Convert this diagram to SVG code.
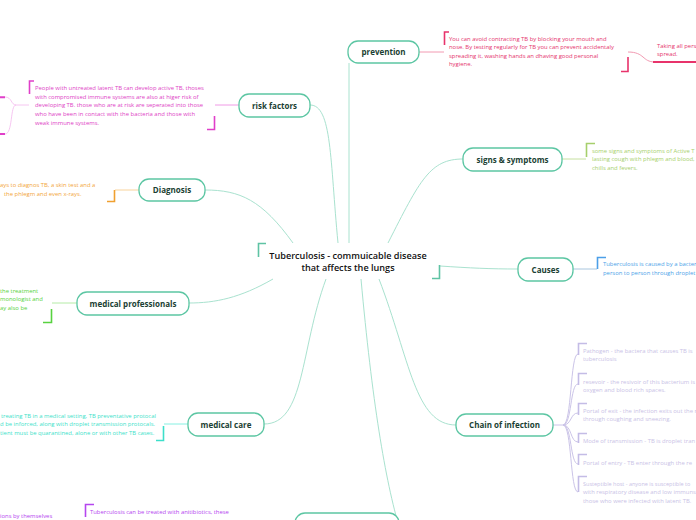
<svg xmlns="http://www.w3.org/2000/svg" width="696" height="520" viewBox="0 0 696 520">
<style>
.node rect{fill:#fff;stroke:#5cc6a3;stroke-width:1.3}
.node text{font-family:"Open Sans","Noto Sans",sans-serif;font-weight:700;font-size:8px;fill:#1b3f33;text-anchor:middle}
.conn{fill:none;stroke:#a9e2cf;stroke-width:1}
.leaf{font-family:"Open Sans","Noto Sans",sans-serif;font-size:5.9px}
.br{fill:none;stroke-width:1.6}
.title{font-family:"Open Sans","Noto Sans",sans-serif;font-weight:600;font-size:9.1px;fill:#111;text-anchor:middle}
</style>
<rect width="696" height="520" fill="#fff"/>
<g id="connectors">
<path class="conn" d="M349,243 L349,63"/>
<path class="conn" d="M338,243 C330,160 332,105 310,105"/>
<path class="conn" d="M293,243 C262,200 240,190 205,190"/>
<path class="conn" d="M273,279 C240,298 215,303 189,303"/>
<path class="conn" d="M326,279 C300,350 305,424 264,424"/>
<path class="conn" d="M361,279 C372,400 385,480 400,530"/>
<path class="conn" d="M379,279 C410,360 415,425 456,425"/>
<path class="conn" d="M440,266 C470,268 490,269 518,269"/>
<path class="conn" d="M388,243 C420,180 430,159 463,159"/>
<path fill="none" stroke="#f29ab2" stroke-width="1" d="M419,52 L444,52"/>
<path fill="none" stroke="#f29ab2" stroke-width="1" d="M628,52 C645,52 642,62 655,62"/>
<path fill="none" stroke="#f09ae6" stroke-width="1" d="M239,105 L215,105"/>
<path fill="none" stroke="#f4b8ee" stroke-width="0.8" d="M29,105 L16,105 C11,105 12,97 5,97 M16,105 C10,105 13,134 5,134"/>
<path fill="none" stroke="#f8d39c" stroke-width="1" d="M139,190 L115,190"/>
<path fill="none" stroke="#c6e0a0" stroke-width="1" d="M562,159 L586,159"/>
<path fill="none" stroke="#a9c6de" stroke-width="1" d="M573,269 L597,269"/>
<path fill="none" stroke="#b4eba6" stroke-width="1" d="M77,303 L52,303"/>
<path fill="none" stroke="#86f0e2" stroke-width="1" d="M188,424 L164,424"/>
<g fill="none" stroke="#cbc4e8" stroke-width="1">
<path d="M553,425 L563,425 C572,425 570,354 578,354"/>
<path d="M563,425 C572,425 570,384 578,384"/>
<path d="M563,425 C572,425 570,413 578,413"/>
<path d="M563,425 C572,425 570,442 578,442"/>
<path d="M563,425 C572,425 570,464 578,464"/>
<path d="M563,425 C572,425 570,492 578,492"/>
</g>
</g>

<g id="center">
<path class="br" stroke="#5fc3a4" d="M266,243.5 L258.5,243.5 L258.5,257"/>
<path class="br" stroke="#5fc3a4" d="M432,278.5 L439.5,278.5 L439.5,265"/>
<text class="title" x="348" y="259">Tuberculosis - commuicable disease</text>
<text class="title" x="348" y="271">that affects the lungs</text>
</g>

<g id="prevention" class="node"><rect x="348" y="41" width="71" height="22" rx="10"/><text x="383.5" y="55">prevention</text></g>
<g id="risk-factors" class="node"><rect x="239" y="94" width="71" height="23" rx="10"/><text x="274.5" y="108.5">risk factors</text></g>
<g id="diagnosis" class="node"><rect x="139" y="179" width="66" height="22" rx="10"/><text x="172" y="193">Diagnosis</text></g>
<g id="signs-symptoms" class="node"><rect x="463" y="148" width="99" height="23" rx="10"/><text x="512.5" y="162.5">signs &amp; symptoms</text></g>
<g id="causes" class="node"><rect x="518" y="258" width="55" height="23" rx="10"/><text x="545.5" y="272.5">Causes</text></g>
<g id="medical-professionals" class="node"><rect x="77" y="292" width="112" height="23" rx="10"/><text x="133" y="306.5">medical professionals</text></g>
<g id="chain-of-infection" class="node"><rect x="456" y="414" width="97" height="22" rx="10"/><text x="504.5" y="428">Chain of infection</text></g>
<g id="medical-care" class="node"><rect x="188" y="413" width="76" height="23" rx="10"/><text x="226" y="427.5">medical care</text></g>
<g id="treatment" class="node"><rect x="295" y="513" width="104" height="23" rx="10"/></g>

<g id="prevention-leaf" class="leaf" fill="#e5336d">
<path class="br" stroke="#e8336b" d="M449,32 L444.5,32 L444.5,45"/>
<path class="br" stroke="#e8336b" d="M621,71.5 L628,71.5 L628,57"/>
<text x="449" y="41">You can  avoid contracting TB by blocking your mouth and</text>
<text x="449" y="49.4">nose. By testing regularly for TB you can prevent accidentaly</text>
<text x="449" y="57.8">spreading it, washing hands an dhaving good personal</text>
<text x="449" y="66.2">hygiene.</text>
</g>
<g id="prevention-child" class="leaf" fill="#e5336d">
<path fill="none" stroke="#e8336b" stroke-width="2" d="M653,62 L696,62"/>
<text x="657" y="48">Taking all pers</text>
<text x="657" y="56.4">spread.</text>
</g>

<g id="risk-leaf" class="leaf" fill="#de3fc6">
<path class="br" stroke="#e03fc9" d="M34,81 L29.5,81 L29.5,94"/>
<path class="br" stroke="#e03fc9" d="M207,129.5 L214.5,129.5 L214.5,116"/>
<text x="35" y="90.3">People with untreated latent TB can develop active TB, thoses</text>
<text x="35" y="98.7">with compromised immune systems are also at higer risk of</text>
<text x="35" y="107.3">developing TB. those who are at risk are seperated into those</text>
<text x="35" y="115.9">who have been in contact with the bacteria and those with</text>
<text x="35" y="124.5">weak immune systems.</text>
</g>
<g id="risk-children">
<path fill="none" stroke="#e03fc9" stroke-width="2" d="M0,97.3 L5,97.3 M0,134 L5,134"/>
</g>

<g id="diagnosis-leaf" class="leaf" fill="#f2a53a">
<path class="br" stroke="#f0a030" d="M107,201.5 L114.5,201.5 L114.5,190"/>
<text x="0" y="187">ays to diagnos TB, a skin test and a</text>
<text x="4" y="196">the phlegm and even x-rays.</text>
</g>

<g id="signs-leaf" class="leaf" fill="#a6cf6c">
<path class="br" stroke="#a6cf6c" d="M595,143.5 L586.5,143.5 L586.5,157"/>
<text x="592" y="152.7">some signs and symptoms of Active T</text>
<text x="592" y="161.3">lasting cough with phlegm and blood,</text>
<text x="592" y="169.8">chills and fevers.</text>
</g>

<g id="causes-leaf" class="leaf" fill="#4c9fe8">
<path class="br" stroke="#4c9fe8" d="M606,257.5 L597.5,257.5 L597.5,269"/>
<text x="603" y="266.4">Tuberculosis is caused by a bacter</text>
<text x="603" y="275.3">person to person through droplet</text>
</g>

<g id="professionals-leaf" class="leaf" fill="#58d240">
<path class="br" stroke="#58d240" d="M43,322.5 L51.5,322.5 L51.5,309"/>
<text x="0" y="292.6">the treatment</text>
<text x="0" y="301">monologist and</text>
<text x="0" y="309.8">ay also be</text>
</g>

<g id="care-leaf" class="leaf" fill="#3ddfca">
<path class="br" stroke="#3ddfca" d="M156,440.5 L163.5,440.5 L163.5,426"/>
<text x="1" y="417.7">treating TB in a medical setting, TB preventative protocal</text>
<text x="0" y="426.2">d be inforced, along with droplet transmission protocals.</text>
<text x="0" y="435">tient must be quarantined, alone or with other TB cases.</text>
</g>

<g id="chain-leaves" class="leaf" fill="#c9c2e6">
<g class="br" stroke="#c4bce6">
<path d="M587,343.5 L578.5,343.5 L578.5,355"/>
<path d="M587,373.5 L578.5,373.5 L578.5,385"/>
<path d="M587,403.5 L578.5,403.5 L578.5,415"/>
<path d="M587,433.5 L578.5,433.5 L578.5,443"/>
<path d="M587,454.5 L578.5,454.5 L578.5,465"/>
<path d="M587,476.5 L578.5,476.5 L578.5,492"/>
</g>
<text x="583" y="352.7">Pathogen - the bactera that causes TB is</text>
<text x="583" y="361.3">tuberculosis</text>
<text x="583" y="383.7">resevoir - the resivoir of this bacterium is</text>
<text x="583" y="392">oxygen and blood rich spaces.</text>
<text x="583" y="413">Portal of exit - the infection exits out the r</text>
<text x="583" y="421.3">through coughing and sneezing.</text>
<text x="583" y="442.7">Mode of transmission - TB is droplet tran</text>
<text x="583" y="464.7">Portal of  entry - TB enter through the re</text>
<text x="583" y="486" font-size="5.5">Susteptible host - anyone is susceptible to</text>
<text x="583" y="494.4">with respiratory disease and low immuns</text>
<text x="583" y="502.8">those who were infected with latent TB.</text>
</g>

<g id="treatment-leaf" class="leaf" fill="#b546ef">
<path class="br" stroke="#b546ef" d="M94,504.5 L85.5,504.5 L85.5,517"/>
<text x="90" y="513.8">Tuberculosis can be treated with anitibiotics, these</text>
<text x="0" y="517.8">ions by themselves</text>
</g>
</svg>
